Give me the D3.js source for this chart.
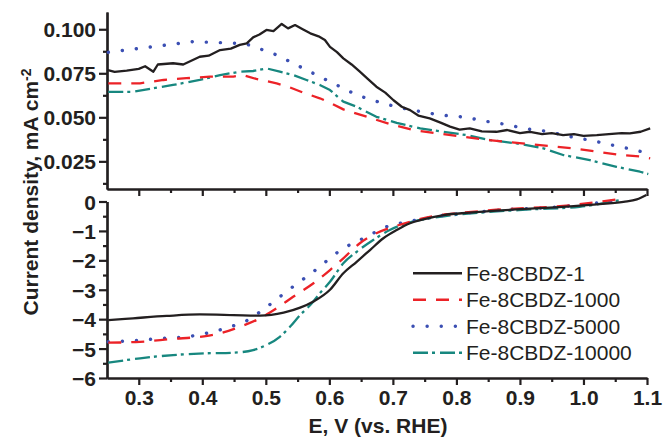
<!DOCTYPE html>
<html>
<head>
<meta charset="utf-8">
<script src="https://cdn.jsdelivr.net/npm/d3@7"></script>
<style>
  html, body { margin: 0; padding: 0; background: #fff; }
  svg { display: block; }
  text { font-family: "Liberation Sans", Arial, Helvetica, sans-serif; fill: #231f20; }
</style>
</head>
<body>
<svg id="chart" width="663" height="441"></svg>
<script>
// ---------------- DATA ----------------
const seriesNames = ["Fe-8CBDZ-1", "Fe-8CBDZ-1000", "Fe-8CBDZ-5000", "Fe-8CBDZ-10000"];
const seriesColors = ["#231f20", "#ec2227", "#3b4fb3", "#17877f"];
const seriesDash = [null, "13,10", "0.1,14", "15,4,3,5"];

const xTicks = [0.3, 0.4, 0.5, 0.6, 0.7, 0.8, 0.9, 1.0, 1.1];
const xMinorTicks = [0.35, 0.45, 0.55, 0.65, 0.75, 0.85, 0.95, 1.05];
const topYTicks = [0.025, 0.050, 0.075, 0.100];
const topYMinor = [0.0125, 0.0375, 0.0625, 0.0875];
const botYTicks = [0, -1, -2, -3, -4, -5, -6];
const botYMinor = [-0.5, -1.5, -2.5, -3.5, -4.5, -5.5];

// Top panel (upper plot) : E (V) and current density (mA cm-2)
const top1E = [0.250,0.262,0.281,0.300,0.310,0.323,0.330,0.354,0.370,0.396,0.410,0.428,0.445,0.459,0.470,0.480,0.490,0.501,0.512,0.525,0.535,0.546,0.558,0.570,0.583,0.593,0.601,0.612,0.622,0.635,0.648,0.660,0.674,0.688,0.701,0.714,0.727,0.740,0.758,0.775,0.790,0.805,0.821,0.840,0.863,0.880,0.900,0.916,0.935,0.950,0.968,0.985,1.000,1.021,1.040,1.060,1.073,1.090,1.105];
const top1J = [0.0769,0.0758,0.0765,0.0775,0.0790,0.0759,0.0800,0.0807,0.0800,0.0844,0.0850,0.0882,0.0890,0.0911,0.0920,0.0954,0.0970,0.0996,0.0990,0.1030,0.1005,0.1024,0.1000,0.0977,0.0960,0.0939,0.0900,0.0870,0.0835,0.0800,0.0759,0.0720,0.0674,0.0640,0.0597,0.0560,0.0541,0.0510,0.0494,0.0470,0.0447,0.0430,0.0437,0.0420,0.0418,0.0428,0.0410,0.0418,0.0405,0.0410,0.0399,0.0405,0.0395,0.0399,0.0405,0.0410,0.0409,0.0418,0.0437];

const top1000E = [0.252,0.263,0.302,0.339,0.375,0.412,0.449,0.464,0.485,0.517,0.538,0.559,0.585,0.601,0.622,0.659,0.695,0.732,0.769,0.811,0.848,0.879,0.916,0.947,0.984,1.021,1.058,1.094,1.105];
const top1000J = [0.0693,0.0693,0.0693,0.0712,0.0722,0.0731,0.0731,0.0740,0.0718,0.0693,0.0670,0.0640,0.0608,0.0583,0.0545,0.0503,0.0462,0.0428,0.0409,0.0390,0.0371,0.0361,0.0348,0.0337,0.0324,0.0305,0.0286,0.0276,0.0267];

const top5000E = [0.252,0.302,0.344,0.386,0.428,0.454,0.470,0.496,0.517,0.538,0.559,0.580,0.601,0.622,0.643,0.664,0.688,0.709,0.730,0.751,0.774,0.795,0.816,0.840,0.861,0.884,0.905,0.926,0.947,0.968,0.992,1.016,1.037,1.058,1.081,1.102];
const top5000J = [0.0869,0.0892,0.0911,0.0930,0.0924,0.0920,0.0915,0.0882,0.0854,0.0816,0.0778,0.0740,0.0702,0.0665,0.0627,0.0602,0.0576,0.0557,0.0541,0.0528,0.0513,0.0507,0.0500,0.0481,0.0469,0.0456,0.0437,0.0428,0.0418,0.0399,0.0381,0.0367,0.0348,0.0333,0.0314,0.0295];

const top10000E = [0.252,0.291,0.323,0.354,0.396,0.428,0.459,0.480,0.501,0.522,0.543,0.564,0.585,0.601,0.622,0.643,0.674,0.706,0.743,0.780,0.816,0.853,0.895,0.937,0.968,1.010,1.052,1.089,1.102];
const top10000J = [0.0645,0.0645,0.0665,0.0684,0.0712,0.0740,0.0759,0.0763,0.0778,0.0759,0.0740,0.0712,0.0684,0.0655,0.0589,0.0560,0.0503,0.0469,0.0437,0.0418,0.0399,0.0371,0.0352,0.0324,0.0286,0.0257,0.0219,0.0191,0.0178];

// Bottom panel (lower plot)
const bot1E = [0.252,0.291,0.344,0.396,0.449,0.491,0.528,0.554,0.575,0.601,0.622,0.643,0.664,0.685,0.706,0.727,0.748,0.780,0.821,0.863,0.916,0.968,1.021,1.063,1.084,1.099];
const bot1J = [-4.03,-3.97,-3.89,-3.84,-3.86,-3.88,-3.78,-3.61,-3.40,-3.00,-2.44,-2.05,-1.65,-1.25,-0.97,-0.74,-0.61,-0.46,-0.38,-0.31,-0.24,-0.18,-0.10,-0.01,0.07,0.22];

const bot1000E = [0.252,0.302,0.354,0.396,0.428,0.459,0.491,0.517,0.543,0.575,0.601,0.622,0.648,0.674,0.701,0.727,0.758,0.811,0.863,0.968,1.063];
const bot1000J = [-4.80,-4.77,-4.67,-4.60,-4.48,-4.26,-3.97,-3.63,-3.24,-2.78,-2.33,-1.93,-1.42,-1.08,-0.86,-0.69,-0.52,-0.38,-0.28,-0.15,0.10];

const bot5000E = [0.252,0.291,0.339,0.375,0.402,0.444,0.470,0.491,0.512,0.532,0.559,0.580,0.601,0.622,0.643,0.669,0.690,0.711,0.737,0.780,0.821,0.863,0.968,1.063];
const bot5000J = [-4.77,-4.73,-4.65,-4.60,-4.50,-4.26,-4.05,-3.75,-3.41,-3.07,-2.64,-2.30,-1.93,-1.59,-1.37,-1.08,-0.86,-0.74,-0.63,-0.47,-0.38,-0.30,-0.17,0.06];

const bot10000E = [0.252,0.302,0.354,0.407,0.449,0.480,0.501,0.522,0.538,0.554,0.570,0.585,0.601,0.622,0.643,0.669,0.695,0.722,0.748,0.785,0.837,0.916,0.994,1.058];
const bot10000J = [-5.48,-5.33,-5.22,-5.16,-5.14,-5.05,-4.88,-4.60,-4.26,-3.86,-3.52,-3.12,-2.73,-2.10,-1.71,-1.31,-0.97,-0.74,-0.61,-0.49,-0.38,-0.27,-0.18,0.05];

// ---------------- DRAW ----------------
const svg = d3.select("#chart");
const FONT = "21px";

const x = d3.scaleLinear().domain([0.25, 1.1]).range([107, 647]);
const yTop = d3.scaleLinear().domain([0.0093, 0.1098]).range([189, 12]);
const yBot = d3.scaleLinear().domain([-6, 0]).range([378, 201.5]);

function styleAxis(g) {
  g.selectAll("path.domain").attr("stroke", "#231f20").attr("stroke-width", 2.2);
  g.selectAll(".tick line").attr("stroke", "#231f20").attr("stroke-width", 2.2);
  g.selectAll(".tick text").attr("font-size", FONT).attr("font-weight", "bold")
    .attr("font-family", '"Liberation Sans", Arial, sans-serif').attr("fill", "#231f20");
}

// top panel y axis
svg.append("g").attr("transform", "translate(107,0)")
  .call(d3.axisLeft(yTop).tickValues(topYMinor).tickSize(4).tickFormat("").tickSizeOuter(0))
  .call(styleAxis);
svg.append("g").attr("transform", "translate(107,0)")
  .call(d3.axisLeft(yTop).tickValues(topYTicks).tickSize(8).tickPadding(3).tickFormat(d3.format(".3f")).tickSizeOuter(0))
  .call(styleAxis).call(g => g.selectAll(".tick text").attr("dy", "0.36em"));

// top panel x axis (no labels)
svg.append("g").attr("transform", "translate(0,189)")
  .call(d3.axisBottom(x).tickValues(xMinorTicks).tickSize(4).tickFormat("").tickSizeOuter(0))
  .call(styleAxis);
svg.append("g").attr("transform", "translate(0,189)")
  .call(d3.axisBottom(x).tickValues(xTicks).tickSize(7).tickFormat("").tickSizeOuter(0))
  .call(styleAxis);

// bottom panel y axis
svg.append("g").attr("transform", "translate(107,0)")
  .call(d3.axisLeft(yBot).tickValues(botYMinor).tickSize(4).tickFormat("").tickSizeOuter(0))
  .call(styleAxis);
svg.append("g").attr("transform", "translate(107,0)")
  .call(d3.axisLeft(yBot).tickValues(botYTicks).tickSize(8).tickPadding(3).tickFormat(d3.format("d")).tickSizeOuter(0))
  .call(styleAxis).call(g => g.selectAll(".tick text").attr("dy", "0.36em"));

// bottom panel x axis
svg.append("g").attr("transform", "translate(0,378)")
  .call(d3.axisBottom(x).tickValues(xMinorTicks).tickSize(4).tickFormat("").tickSizeOuter(0))
  .call(styleAxis);
svg.append("g").attr("transform", "translate(0,378)")
  .call(d3.axisBottom(x).tickValues(xTicks).tickSize(7).tickPadding(5).tickFormat(d3.format(".1f")).tickSizeOuter(0))
  .call(styleAxis);

// curves
const topSets = [[top1E, top1J], [top1000E, top1000J], [top5000E, top5000J], [top10000E, top10000J]];
const botSets = [[bot1E, bot1J], [bot1000E, bot1000J], [bot5000E, bot5000J], [bot10000E, bot10000J]];

const lineTop = d3.line().x(d => x(d[0])).y(d => yTop(d[1])).curve(d3.curveLinear);
const lineBot = d3.line().x(d => x(d[0])).y(d => yBot(d[1])).curve(d3.curveMonotoneX);

function strokeStyle(sel, i) {
  sel.attr("fill", "none").attr("stroke", seriesColors[i])
    .attr("stroke-width", i === 2 ? 3.4 : 2.3)
    .attr("stroke-linecap", i === 2 ? "round" : "butt")
    .attr("stroke-linejoin", "round")
    .attr("stroke-dasharray", seriesDash[i]);
}

const drawOrder = [3, 2, 1, 0];
drawOrder.forEach(i => {
  const pts = d3.zip(topSets[i][0], topSets[i][1]);
  svg.append("path").attr("d", lineTop(pts)).call(strokeStyle, i);
});
drawOrder.forEach(i => {
  const pts = d3.zip(botSets[i][0], botSets[i][1]);
  svg.append("path").attr("d", lineBot(pts)).call(strokeStyle, i);
});

// legend
const legendY = d3.scaleBand().domain(seriesNames).range([260, 366]);
const lg = svg.append("g");
seriesNames.forEach((name, i) => {
  const cy = legendY(name) + legendY.bandwidth() / 2;
  lg.append("line").attr("x1", 413).attr("x2", 462).attr("y1", cy).attr("y2", cy)
    .call(strokeStyle, i);
  lg.append("text").attr("x", 466).attr("y", cy).attr("dy", "0.36em")
    .attr("font-size", FONT).text(name);
});

// axis titles
svg.append("text").attr("x", 378).attr("y", 433).attr("text-anchor", "middle")
  .attr("font-size", FONT).attr("font-weight", "bold").text("E, V (vs. RHE)");

const yt = svg.append("text").attr("transform", "translate(38,192) rotate(-90)")
  .attr("text-anchor", "middle").attr("font-size", FONT).attr("font-weight", "bold");
yt.append("tspan").text("Current density, mA cm");
yt.append("tspan").attr("dy", "-0.5em").attr("font-size", "14px").text("-2");
</script>
</body>
</html>
